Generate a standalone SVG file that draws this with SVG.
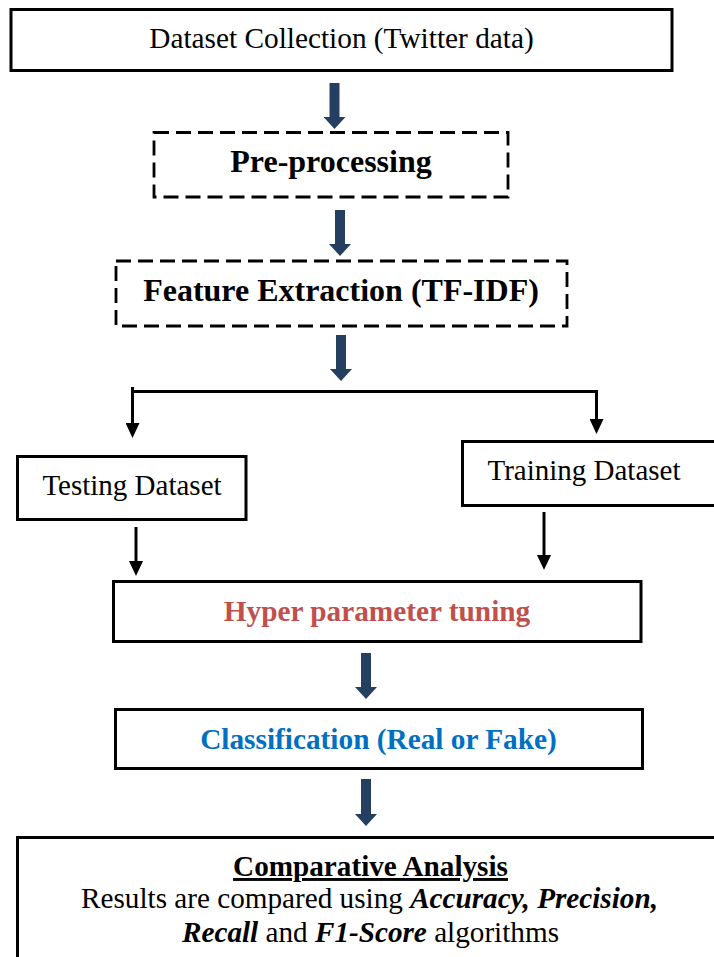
<svg xmlns="http://www.w3.org/2000/svg" width="714" height="957" viewBox="0 0 714 957">
  <style>
    .box { fill: #ffffff; stroke: #000000; stroke-width: 3; }
    .dash { fill: #ffffff; stroke: #000000; stroke-width: 2.8; stroke-dasharray: 15 7; }
    .t { font-family: "Liberation Serif", "Times New Roman", serif; fill: #000000; text-anchor: middle; }
    .b { font-weight: bold; }
    .bi { font-weight: bold; font-style: italic; }
    .navy { stroke: #243F60; stroke-width: 10; fill: none; }
    .blk { stroke: #000000; stroke-width: 3; fill: none; }
  </style>
  <defs>
    <marker id="navyHead" markerUnits="userSpaceOnUse" markerWidth="12" markerHeight="22" refX="0" refY="11" orient="auto" viewBox="0 0 12 22">
      <path d="M0,0 L12,11 L0,22 Z" fill="#243F60"/>
    </marker>
    <marker id="blkHead" markerUnits="userSpaceOnUse" markerWidth="15" markerHeight="14" refX="0" refY="7" orient="auto" viewBox="0 0 15 14">
      <path d="M0,0 L15,7 L0,14 Z" fill="#000000"/>
    </marker>
  </defs>

  <g id="connectors">
    <path class="navy" d="M334.5,83 V117" marker-end="url(#navyHead)"/>
    <path class="navy" d="M340,210 V244" marker-end="url(#navyHead)"/>
    <path class="navy" d="M341,335 V369" marker-end="url(#navyHead)"/>
    <path class="navy" d="M366,653 V687" marker-end="url(#navyHead)"/>
    <path class="navy" d="M366,779 V814" marker-end="url(#navyHead)"/>
    <path class="blk" d="M132.5,387 V423" marker-end="url(#blkHead)"/>
    <path class="blk" d="M131,391.5 H596.5 V419" marker-end="url(#blkHead)"/>
    <path class="blk" d="M136,527 V561" marker-end="url(#blkHead)"/>
    <path class="blk" d="M544,512 V555" marker-end="url(#blkHead)"/>
  </g>

  <g id="dataset-collection">
    <rect class="box" x="11" y="9.5" width="661" height="61"/>
    <text class="t" x="341.5" y="48" font-size="29.3">Dataset Collection (Twitter data)</text>
  </g>

  <g id="pre-processing">
    <rect class="dash" x="154" y="132.5" width="354" height="64.5"/>
    <text class="t b" x="331" y="172" font-size="32">Pre-processing</text>
  </g>

  <g id="feature-extraction">
    <rect class="dash" x="116" y="261" width="451" height="65"/>
    <text class="t b" x="341" y="301" font-size="32">Feature Extraction (TF-IDF)</text>
  </g>

  <g id="testing-dataset">
    <rect class="box" x="17.5" y="456.5" width="228.5" height="63"/>
    <text class="t" x="132" y="495" font-size="29">Testing Dataset</text>
  </g>

  <g id="training-dataset">
    <rect class="box" x="462.5" y="441.5" width="260" height="64"/>
    <text class="t" x="584" y="480" font-size="29">Training Dataset</text>
  </g>

  <g id="hyper-parameter-tuning">
    <rect class="box" x="113.5" y="581.5" width="527.5" height="60"/>
    <text class="t b" x="377" y="621" font-size="29.3" style="fill:#C0504D">Hyper parameter tuning</text>
  </g>

  <g id="classification">
    <rect class="box" x="115.5" y="709.5" width="527" height="59"/>
    <text class="t b" x="378.5" y="749" font-size="29.3" style="fill:#0070C0">Classification (Real or Fake)</text>
  </g>

  <g id="comparative-analysis">
    <rect class="box" x="17.5" y="837.5" width="710" height="140"/>
    <text class="t b" x="370.5" y="876" font-size="29.2" text-decoration="underline">Comparative Analysis</text>
    <text class="t" x="369.5" y="908" font-size="29.2">Results are compared using <tspan class="bi">Accuracy,</tspan> <tspan class="bi">Precision,</tspan></text>
    <text class="t" x="370.5" y="942" font-size="29.2"><tspan class="bi">Recall</tspan> and <tspan class="bi">F1-Score</tspan> algorithms</text>
  </g>
</svg>
